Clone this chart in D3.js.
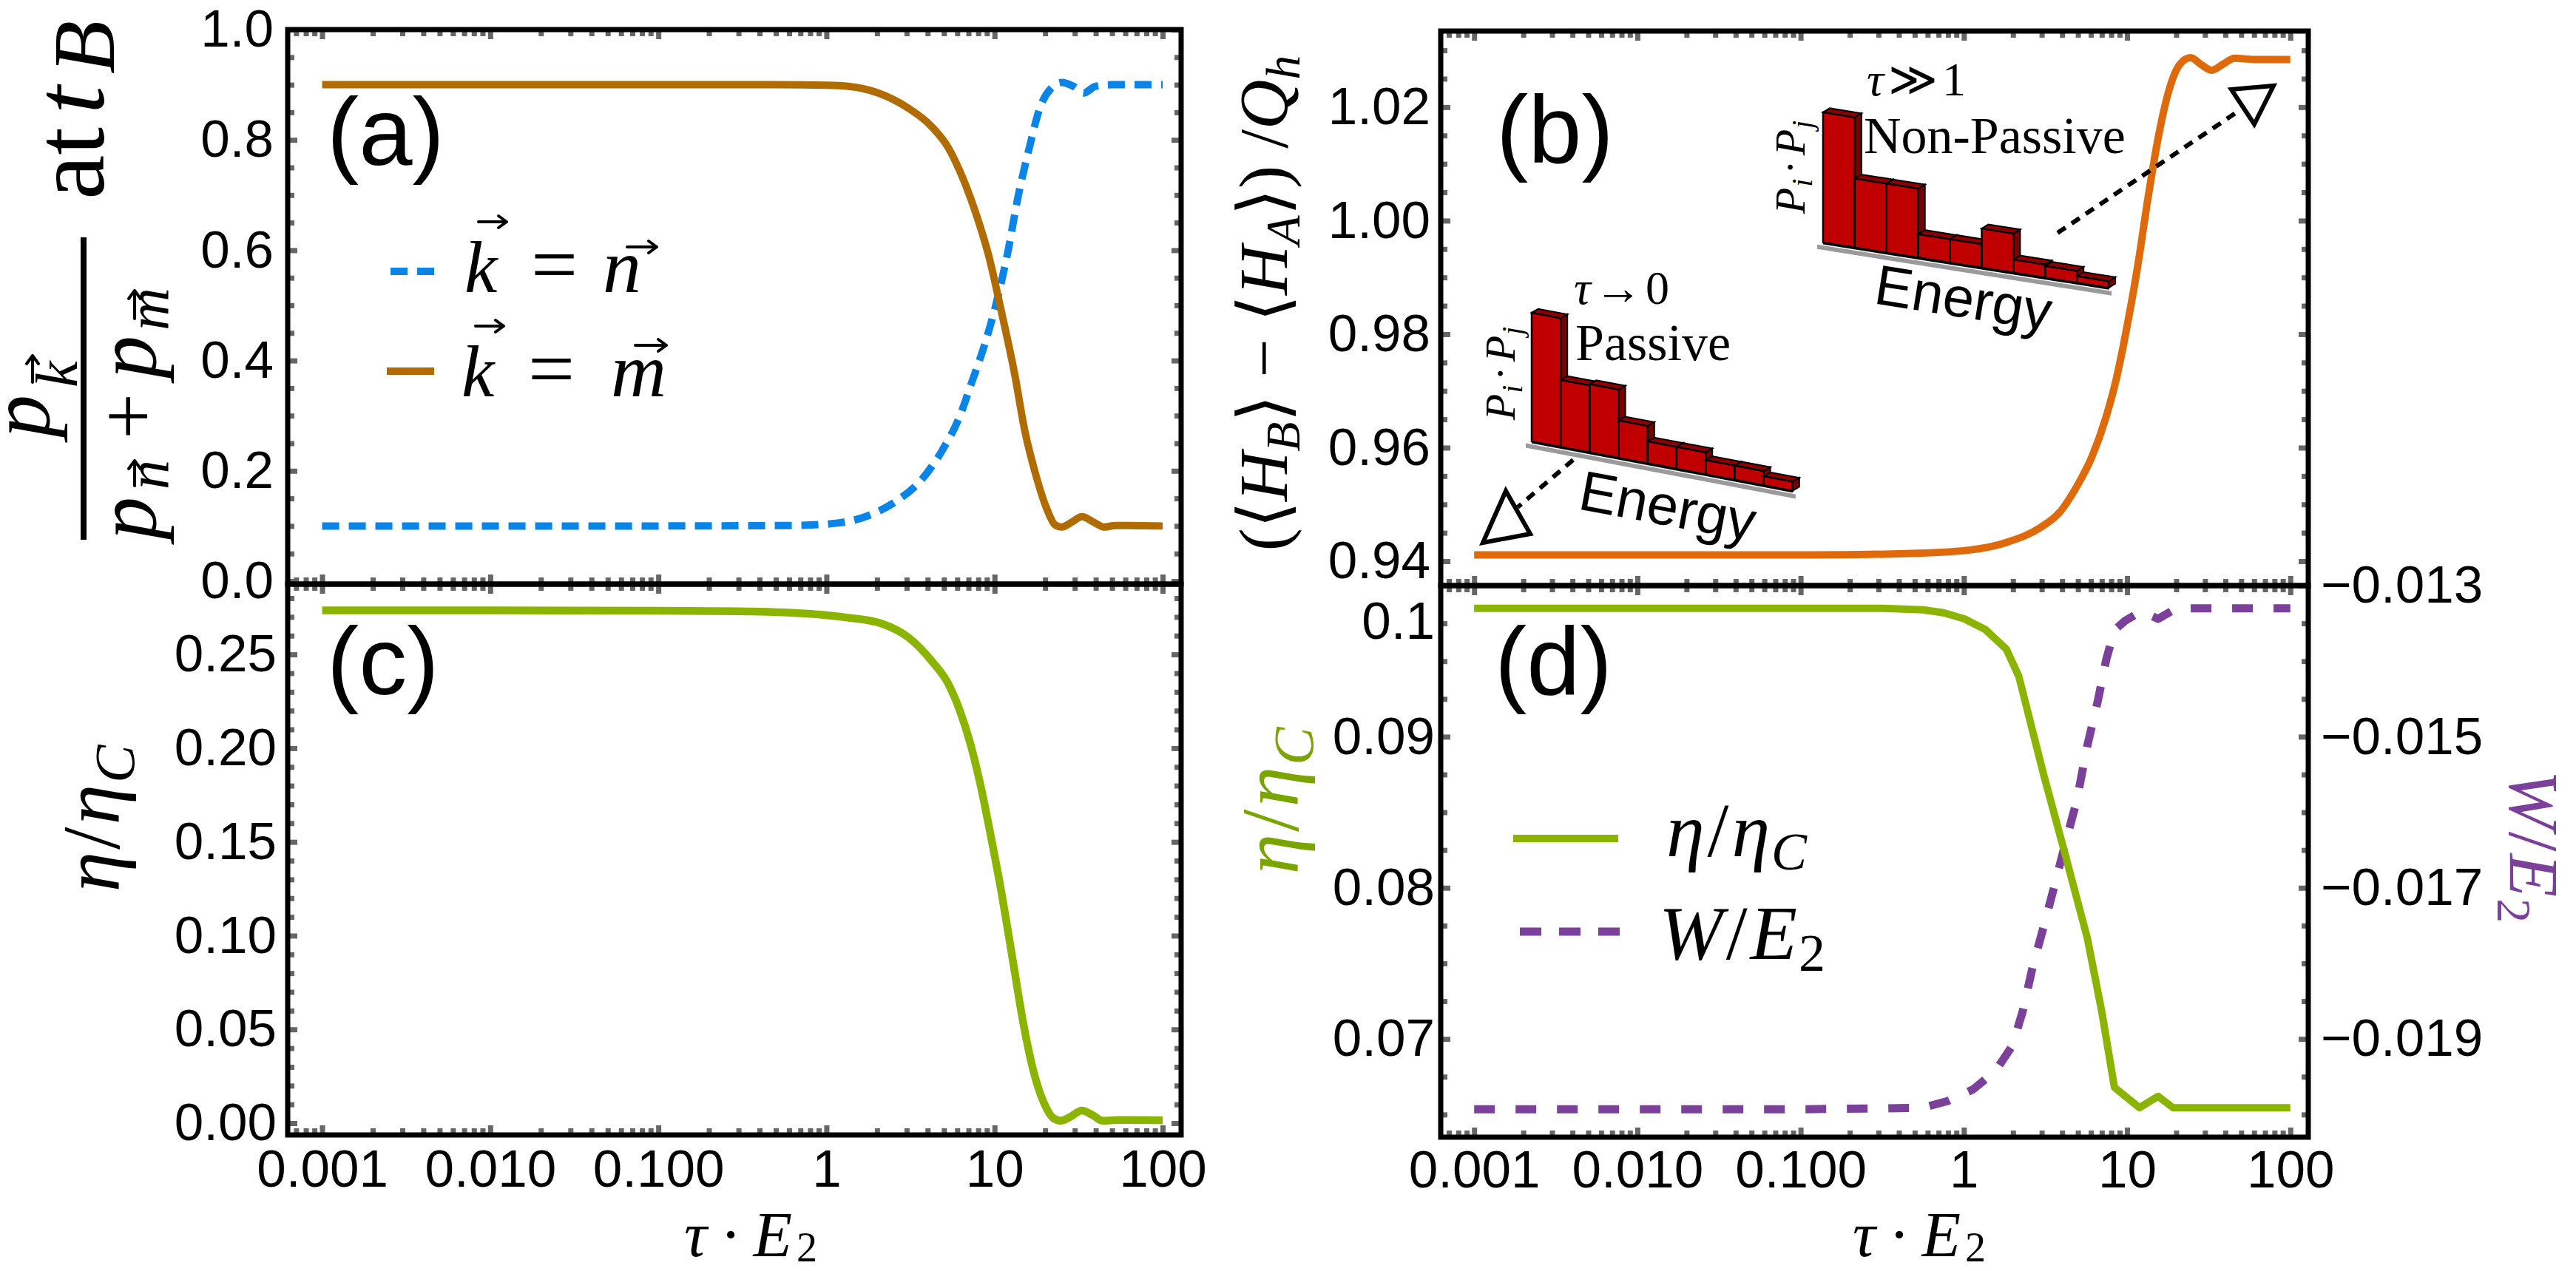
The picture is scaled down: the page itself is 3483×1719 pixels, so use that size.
<!DOCTYPE html>
<html><head><meta charset="utf-8"><title>chart</title>
<script src="https://cdn.jsdelivr.net/npm/d3@7/dist/d3.min.js"></script>
<style>html,body{margin:0;padding:0;background:#fff;}svg{display:block;}</style>
</head><body>
<svg id="fig" width="3483" height="1719" viewBox="0 0 3483 1719"></svg>
<script>
// ---------------- DATA ----------------
const xTickValues = [0.001, 0.01, 0.1, 1, 10, 100];
const xTickLabels = ["0.001", "0.010", "0.100", "1", "10", "100"];

// panel (a): p_k/(p_n+p_m) at t_B
const tauKm  = [0.001,0.01,0.1,0.5,1,1.35,2.03,3.05,4.23,5.33,6.53,7.76,9.23,10.96,13.2,15.1,17.4,20.4,22.9,25.1,28.8,33.1,38.9,44.7,52.5,100];
const probKm = [0.9,0.9,0.9,0.9,0.899,0.897,0.885,0.858,0.824,0.785,0.728,0.666,0.59,0.49,0.374,0.274,0.198,0.132,0.102,0.098,0.107,0.117,0.107,0.098,0.101,0.1];
const tauKn  = [0.001,0.01,0.1,0.65,1.135,1.71,2.57,3.63,4.86,6.17,7.29,8.71,10.4,12.0,13.8,16.2,18.6,21.6,25.1,29.5,33.9,39.8,50.1,100];
const probKn = [0.1,0.1,0.1,0.101,0.105,0.117,0.144,0.182,0.236,0.297,0.359,0.428,0.512,0.597,0.697,0.789,0.858,0.893,0.904,0.897,0.885,0.897,0.9,0.9];
const aTicks = [0, 0.2, 0.4, 0.6, 0.8, 1.0];
const aTickLabels = ["0.0", "0.2", "0.4", "0.6", "0.8", "1.0"];

// panel (b): (<H_B>-<H_A>)/Q_h
const tauHeat = [0.001,0.01,0.117,0.525,1.107,1.82,3.01,3.86,4.95,6.05,7.38,8.57,9.98,11.6,13.4,15.6,18.1,21.0,24.5,28.4,33.0,38.4,45.7,60.0,100];
const heatB   = [0.9411,0.9411,0.9411,0.9414,0.942,0.9433,0.9461,0.9486,0.9533,0.9582,0.9651,0.972,0.9813,0.9919,1.0038,1.015,1.0231,1.0275,1.0287,1.0275,1.0265,1.0275,1.0286,1.0284,1.0284];
const bTicks = [0.94, 0.96, 0.98, 1.00, 1.02];
const bTickLabels = ["0.94", "0.96", "0.98", "1.00", "1.02"];
const passiveBars    = [1.0, 0.52, 0.53, 0.29, 0.17, 0.17, 0.11, 0.11, 0.07];
const nonPassiveBars = [1.0, 0.53, 0.53, 0.18, 0.18, 0.30, 0.10, 0.09, 0.05];

// panel (c): eta/eta_C
const tauEffC = [0.001,0.01,0.1,0.305,0.805,1.31,2.12,3.13,4.18,5.33,6.18,7.16,8.26,9.57,11.07,12.8,14.8,17.1,19.8,22.4,24.7,28.4,33.0,38.0,44.0,55.0,100];
const effC    = [0.2735,0.2735,0.2733,0.273,0.2716,0.2697,0.2665,0.2585,0.247,0.234,0.2206,0.2028,0.1801,0.1517,0.1215,0.0876,0.0537,0.0272,0.0102,0.0026,0.0013,0.0035,0.0067,0.0045,0.0013,0.0017,0.0015];
const cTicks = [0, 0.05, 0.10, 0.15, 0.20, 0.25];
const cTickLabels = ["0.00", "0.05", "0.10", "0.15", "0.20", "0.25"];

// panel (d): eta/eta_C (left) and W/E_2 (right)
const tauEffD = [0.001,0.01,0.1,0.32,0.561,0.752,1.007,1.35,1.82,2.17,3.08,4.13,5.70,7.0,8.36,11.9,15.5,19.1,100];
const effD    = [0.0985,0.0985,0.0985,0.0985,0.0984,0.0982,0.0978,0.0971,0.0958,0.094,0.0875,0.0824,0.0767,0.0718,0.0668,0.06545,0.0662,0.06545,0.06545];
const tauWork = [0.001,0.01,0.1,0.316,0.561,0.80,1.135,1.567,1.98,2.29,2.65,3.16,3.67,4.27,4.90,5.69,6.61,7.45,8.36,9.66,12.2,15.5,20.1,100];
const workD   = [-0.01993,-0.01993,-0.01993,-0.01992,-0.01991,-0.01982,-0.01967,-0.01942,-0.01909,-0.01864,-0.01803,-0.01743,-0.01689,-0.01634,-0.01586,-0.01513,-0.01453,-0.01398,-0.01359,-0.01347,-0.01334,-0.01344,-0.0133,-0.0133];
const dTicks = [0.07, 0.08, 0.09, 0.1];
const dTickLabels = ["0.07", "0.08", "0.09", "0.1"];
const dRightTicks = [-0.019, -0.017, -0.015, -0.013];
const dRightTickLabels = ["\u22120.019", "\u22120.017", "\u22120.015", "\u22120.013"];

// ---------------- STYLE ----------------
const serif = "'Liberation Serif','DejaVu Serif',serif";
const sans = "'Liberation Sans',Arial,'DejaVu Sans',sans-serif";
const C = {blue:"#0a84e6", brown:"#b06c00", orange:"#df6a0b", green:"#8ab400", greenTxt:"#7aa400", purple:"#7b4099", red:"#c00000", dark:"#7a0000"};
const TICK = "#666", FS = 71;

const svg = d3.select("#fig");
svg.append("rect").attr("width",3483).attr("height",1719).attr("fill","#fff");

const xDomain = [0.000624, 128.8];
const PA = {x0:389, x1:1597, y0:40,  y1:790,  yDom:[-0.0054, 1.0]};
const PC = {x0:389, x1:1597, y0:790, y1:1535, yDom:[-0.0063, 0.2875]};
const PB = {x0:1948, x1:3121, y0:42, y1:792,  yDom:[0.9357, 1.0334]};
const PD = {x0:1948, x1:3121, y0:792, y1:1538, yDom:[0.0635, 0.1], y2Dom:[-0.0203, -0.013]};

function xMinors(){
  const out=[];
  for(let d=-4; d<=2; d++) for(let k=2;k<=9;k++){const v=k*Math.pow(10,d); if(v>xDomain[0]&&v<xDomain[1]) out.push(v);}
  return out;
}
function linMinors(lo, hi, step, majors){
  const out=[]; const n=Math.round((hi-lo)/step);
  for(let i=0;i<=n;i++){const v=+(lo+i*step).toFixed(6); if(!majors.some(m=>Math.abs(m-v)<step*0.01)) out.push(v);}
  return out;
}
function axisOn(g, scale, orient, pos, majors, minors, labels, pad){
  const mk = {bottom:d3.axisBottom, top:d3.axisTop, left:d3.axisLeft, right:d3.axisRight}[orient];
  const tr = (orient==="bottom"||orient==="top") ? `translate(0,${pos})` : `translate(${pos},0)`;
  const gm = g.append("g").attr("transform",tr).call(mk(scale).tickValues(minors).tickSize(-9).tickFormat(""));
  gm.select(".domain").remove();
  gm.selectAll("line").attr("stroke",TICK).attr("stroke-width",7);
  const gM = g.append("g").attr("transform",tr).call(mk(scale).tickValues(majors).tickSize(-13).tickPadding(pad||0).tickFormat((d,i)=>labels?labels[i]:""));
  gM.select(".domain").remove();
  gM.selectAll("line").attr("stroke",TICK).attr("stroke-width",7);
  gM.selectAll("text").attr("font-family",sans).attr("font-size",FS).attr("fill","#000");
  return gM;
}
function makePanel(P){
  const x = d3.scaleLog().domain(xDomain).range([P.x0, P.x1]);
  const y = d3.scaleLinear().domain(P.yDom).range([P.y1, P.y0]);
  return {x, y, g: svg.append("g")};
}
function frame(P){
  svg.append("rect").attr("x",P.x0).attr("y",P.y0).attr("width",P.x1-P.x0).attr("height",P.y1-P.y0)
    .attr("fill","none").attr("stroke","#000").attr("stroke-width",7);
}
function curve(g, xs, ys, xS, yS, color, w, dash, cv){
  const pts = xs.map((t,i)=>[t, ys[i]]);
  g.append("path").datum(pts)
    .attr("d", d3.line().x(d=>xS(d[0])).y(d=>yS(d[1])).curve(cv||d3.curveMonotoneX))
    .attr("fill","none").attr("stroke",color).attr("stroke-width",w)
    .attr("stroke-dasharray",dash||null).attr("stroke-linejoin","round");
}
const xMin = xMinors();

// ---------------- PANEL (a) ----------------
const A = makePanel(PA);
axisOn(A.g, A.x, "bottom", PA.y1, xTickValues, xMin, null);
axisOn(A.g, A.x, "top", PA.y0, xTickValues, xMin, null);
axisOn(A.g, A.y, "left", PA.x0, aTicks, linMinors(0,1,0.05,aTicks), aTickLabels, 19);
axisOn(A.g, A.y, "right", PA.x1, aTicks, linMinors(0,1,0.05,aTicks), null);
curve(A.g, tauKn, probKn, A.x, A.y, C.blue, 10, "23,13");
curve(A.g, tauKm, probKm, A.x, A.y, C.brown, 10);

// ---------------- PANEL (c) ----------------
const Cp = makePanel(PC);
axisOn(Cp.g, Cp.x, "bottom", PC.y1, xTickValues, xMin, xTickLabels, 20);
axisOn(Cp.g, Cp.x, "top", PC.y0, xTickValues, xMin, null);
axisOn(Cp.g, Cp.y, "left", PC.x0, cTicks, linMinors(0,0.28,0.01,cTicks), cTickLabels, 15);
axisOn(Cp.g, Cp.y, "right", PC.x1, cTicks, linMinors(0,0.28,0.01,cTicks), null);
curve(Cp.g, tauEffC, effC, Cp.x, Cp.y, C.green, 10.5);

// ---------------- PANEL (b) ----------------
const B = makePanel(PB);
axisOn(B.g, B.x, "bottom", PB.y1, xTickValues, xMin, null);
axisOn(B.g, B.x, "top", PB.y0, xTickValues, xMin, null);
axisOn(B.g, B.y, "left", PB.x0, bTicks, linMinors(0.94,1.03,0.005,bTicks), bTickLabels, 14);
axisOn(B.g, B.y, "right", PB.x1, bTicks, linMinors(0.94,1.03,0.005,bTicks), null);
curve(B.g, tauHeat, heatB, B.x, B.y, C.orange, 10);

// ---------------- PANEL (d) ----------------
const D = makePanel(PD);
const y2 = d3.scaleLinear().domain(PD.y2Dom).range([PD.y1, PD.y0]);
axisOn(D.g, D.x, "bottom", PD.y1, xTickValues, xMin, xTickLabels, 18);
axisOn(D.g, D.x, "top", PD.y0, xTickValues, xMin, null);
const dl = axisOn(D.g, D.y, "left", PD.x0, dTicks, linMinors(0.065,0.1,0.0025,dTicks), dTickLabels, 8);
dl.selectAll("text").filter(d=>d===0.1).attr("dy","1.0em");
axisOn(D.g, y2, "right", PD.x1, dRightTicks, linMinors(-0.02,-0.013,0.0005,dRightTicks), dRightTickLabels, 17);
curve(D.g, tauWork, workD, D.x, y2, C.purple, 11, "28,28", d3.curveLinear);
curve(D.g, tauEffD, effD, D.x, D.y, C.green, 10, null, d3.curveLinear);

[PA,PC,PB,PD].forEach(frame);

// ---------------- PANEL LABELS ----------------
[["(a)",442,223],["(b)",2023,220],["(c)",442,939],["(d)",2021,939]].forEach(([t,x,y])=>{
  svg.append("text").attr("x",x).attr("y",y).attr("font-family",sans).attr("font-size",130).text(t);
});

// ---------------- helpers for math text ----------------
function vecArrow(g, cx, cy, w){
  g.append("path").attr("d",`M${cx-w/2},${cy}L${cx+w/2},${cy}M${cx+w/2-11},${cy-8}L${cx+w/2},${cy}L${cx+w/2-11},${cy+8}`)
    .attr("fill","none").attr("stroke","#000").attr("stroke-width",4).attr("stroke-linecap","round").attr("stroke-linejoin","round");
}
function txt(g, x, y, s, fs, italic, extra){
  const t = g.append("text").attr("x",x).attr("y",y).attr("font-family",serif).attr("font-size",fs)
    .attr("font-style",italic?"italic":"normal").text(s);
  if(extra) Object.entries(extra).forEach(([k,v])=>t.attr(k,v));
  return t;
}

// ---------------- Y TITLE (a) ----------------
const ga = svg.append("g").attr("transform","translate(14,0) rotate(-90)");
txt(ga, -592, 52, "p", 116, true);
txt(ga, -524, 90, "k", 80, true);
vecArrow(ga, -499, 30, 36);
ga.append("rect").attr("x",-730).attr("y",95).attr("width",409).attr("height",8).attr("fill","#000");
txt(ga, -730, 196, "p", 116, true);
txt(ga, -662, 213, "n", 80, true);
vecArrow(ga, -640, 168, 34);
txt(ga, -594, 196, "+", 110, false);
txt(ga, -512, 196, "p", 116, true);
txt(ga, -447, 213, "m", 80, true);
vecArrow(ga, -412, 168, 38);
txt(ga, -270, 126, "at", 136, false);
txt(ga, -154, 126, "t", 136, true);
txt(ga, -100, 140, "B", 118, true);

// ---------------- Y TITLE (b) ----------------
const gb = svg.append("g").attr("transform","translate(1740,410) rotate(-90)");
{
  const t = gb.append("text").attr("text-anchor","middle").attr("font-family",serif).attr("font-size",93);
  t.append("tspan").text("(\u27E8");
  t.append("tspan").attr("font-style","italic").text("H");
  t.append("tspan").attr("font-style","italic").attr("font-size",66).attr("dy",17).text("B");
  t.append("tspan").attr("dy",-17).text("\u27E9 \u2212 \u27E8");
  t.append("tspan").attr("font-style","italic").text("H");
  t.append("tspan").attr("font-style","italic").attr("font-size",66).attr("dy",17).text("A");
  t.append("tspan").attr("dy",-17).text("\u27E9) /");
  t.append("tspan").attr("font-style","italic").text("Q");
  t.append("tspan").attr("font-style","italic").attr("font-size",66).attr("dy",17).text("h");
}

// ---------------- Y TITLE (c), (d) ----------------
function etaTitle(parent, tr, color, fs){
  const g = parent.append("g").attr("transform",tr);
  const t = g.append("text").attr("text-anchor","middle").attr("font-family",serif).attr("font-size",fs).attr("fill",color);
  t.append("tspan").attr("font-style","italic").text("\u03B7");
  t.append("tspan").attr("dx",3).text("/");
  t.append("tspan").attr("dx",3).attr("font-style","italic").text("\u03B7");
  t.append("tspan").attr("dx",2).attr("font-style","italic").attr("font-size",fs*0.7).attr("dy",fs*0.18).text("C");
  return t;
}
etaTitle(svg, "translate(161,1107) rotate(-90)", "#000", 110);
etaTitle(svg, "translate(1755,1083) rotate(-90)", C.greenTxt, 110);
{
  const g = svg.append("g").attr("transform","translate(3393,1145) rotate(90)");
  const t = g.append("text").attr("text-anchor","middle").attr("font-family",serif).attr("font-size",96).attr("fill",C.purple);
  t.append("tspan").attr("font-style","italic").text("W");
  t.append("tspan").attr("dx",3).text("/");
  t.append("tspan").attr("dx",3).attr("font-style","italic").text("E");
  t.append("tspan").attr("dx",2).attr("font-size",66).attr("dy",16).text("2");
}

// ---------------- X TITLES ----------------
function xTitle(x){
  const t = svg.append("text").attr("x",x).attr("y",1699).attr("font-family",serif).attr("font-size",86);
  t.append("tspan").attr("font-style","italic").text("\u03C4");
  t.append("tspan").attr("dx",18).text("\u00B7");
  t.append("tspan").attr("dx",16).attr("font-style","italic").text("E");
  t.append("tspan").attr("dx",6).attr("font-size",56).attr("dy",7).text("2");
}
xTitle(925); xTitle(2505);

// ---------------- LEGEND (a) ----------------
svg.append("path").attr("d","M528,367L588,367").attr("stroke",C.blue).attr("stroke-width",10).attr("stroke-dasharray","23,13");
svg.append("path").attr("d","M523,502L587,502").attr("stroke",C.brown).attr("stroke-width",10);
txt(svg, 628, 395, "k", 100, true); vecArrow(svg, 666, 300, 38);
txt(svg, 718, 395, "=", 112, false);
txt(svg, 815, 395, "n", 104, true); vecArrow(svg, 868, 334, 40);
txt(svg, 624, 536, "k", 100, true); vecArrow(svg, 662, 441, 38);
txt(svg, 714, 536, "=", 112, false);
txt(svg, 826, 536, "m", 104, true); vecArrow(svg, 880, 467, 42);

// ---------------- LEGEND (d) ----------------
svg.append("path").attr("d","M2046,1134L2188,1134").attr("stroke",C.green).attr("stroke-width",10);
svg.append("path").attr("d","M2055,1260L2199,1260").attr("stroke",C.purple).attr("stroke-width",11).attr("stroke-dasharray","29,24");
{
  const t = svg.append("text").attr("x",2253).attr("y",1158).attr("font-family",serif).attr("font-size",104);
  t.append("tspan").attr("font-style","italic").text("\u03B7");
  t.append("tspan").attr("dx",4).text("/");
  t.append("tspan").attr("dx",4).attr("font-style","italic").text("\u03B7");
  t.append("tspan").attr("dx",2).attr("font-style","italic").attr("font-size",72).attr("dy",18).text("C");
  const u = svg.append("text").attr("x",2243).attr("y",1297).attr("font-family",serif).attr("font-size",104);
  u.append("tspan").attr("font-style","italic").text("W");
  u.append("tspan").attr("dx",4).text("/");
  u.append("tspan").attr("dx",4).attr("font-style","italic").text("E");
  u.append("tspan").attr("dx",2).attr("font-size",72).attr("dy",16).text("2");
}

// ---------------- INSETS (b) ----------------
function histInset(bars, o){
  const gi = svg.append("g").attr("transform",`translate(${o.x},${o.y}) skewY(${o.angle})`);
  const hs = d3.scaleLinear().domain([0,1]).range([0,o.h]);
  const xb = d3.scaleBand().domain(d3.range(bars.length)).range([0,o.w*bars.length]);
  const total = o.w*bars.length;
  gi.append("line").attr("x1",-8).attr("x2",total+4).attr("y1",7).attr("y2",7).attr("stroke","#9a9a9a").attr("stroke-width",6);
  const dx=9, dy=7;
  bars.forEach((v,i)=>{
    const x=xb(i), w=xb.bandwidth(), h=hs(v);
    gi.append("path").attr("d",`M${x+w},${-h}L${x+w+dx},${-h-dy}L${x+w+dx},${-dy}L${x+w},0Z`).attr("fill",C.dark).attr("stroke","#000").attr("stroke-width",2);
    gi.append("path").attr("d",`M${x},${-h}L${x+dx},${-h-dy}L${x+w+dx},${-h-dy}L${x+w},${-h}Z`).attr("fill","#8a0000").attr("stroke","#000").attr("stroke-width",2);
    gi.append("rect").attr("x",x).attr("y",-h).attr("width",w).attr("height",h).attr("fill",C.red).attr("stroke","#000").attr("stroke-width",2.5);
  });
  gi.append("line").attr("x1",0).attr("x2",total).attr("y1",1).attr("y2",1).attr("stroke","#000").attr("stroke-width",3);
}
histInset(passiveBars, {x:2071, y:597, w:39.2, h:174, angle:10.7});
histInset(nonPassiveBars, {x:2465, y:328, w:42.9, h:176, angle:9});

function pLabel(tr){
  const g = svg.append("g").attr("transform",tr);
  const t = g.append("text").attr("text-anchor","middle").attr("font-family",serif).attr("font-size",58);
  t.append("tspan").attr("font-style","italic").text("P");
  t.append("tspan").attr("dx",1).attr("font-style","italic").attr("font-size",40).attr("dy",10).text("i");
  t.append("tspan").attr("dx",6).attr("dy",-10).text("\u00B7");
  t.append("tspan").attr("dx",6).attr("font-style","italic").text("P");
  t.append("tspan").attr("dx",1).attr("font-style","italic").attr("font-size",40).attr("dy",10).text("j");
}
pLabel("translate(2048,505) rotate(-90)");
pLabel("translate(2440,226) rotate(-90)");

{
  const t1 = svg.append("text").attr("x",2128).attr("y",411).attr("font-family",serif).attr("font-size",64);
  t1.append("tspan").attr("font-style","italic").text("\u03C4");
  t1.append("tspan").attr("dx",5).text("\u2192");
  t1.append("tspan").attr("dx",5).text("0");
  txt(svg, 2130, 487, "Passive", 70, false);
  const t2 = svg.append("text").attr("x",2524).attr("y",129).attr("font-family",serif).attr("font-size",64);
  t2.append("tspan").attr("font-style","italic").text("\u03C4");
  t2.append("tspan").attr("dx",6).text("\u226B");
  t2.append("tspan").attr("dx",6).text("1");
  txt(svg, 2520, 207, "Non-Passive", 70, false);
}
svg.append("text").attr("transform","translate(2132,688) rotate(10.6)").attr("font-family",sans).attr("font-size",76).text("Energy");
svg.append("text").attr("transform","translate(2532,410) rotate(9)").attr("font-family",sans).attr("font-size",76).text("Energy");

// dashed pointers and triangles
svg.append("path").attr("d","M2127,622L2052,686").attr("stroke","#000").attr("stroke-width",6).attr("stroke-dasharray","13,10");
svg.append("path").attr("d","M2782,315L3024,152").attr("stroke","#000").attr("stroke-width",6).attr("stroke-dasharray","13,10");
svg.append("polygon").attr("points","2005,734 2069,722 2036,664").attr("fill","#fff").attr("stroke","#000").attr("stroke-width",6).attr("stroke-linejoin","miter");
svg.append("polygon").attr("points","3017,121 3074,116 3048,168").attr("fill","#fff").attr("stroke","#000").attr("stroke-width",6).attr("stroke-linejoin","miter");
</script>
</body></html>
